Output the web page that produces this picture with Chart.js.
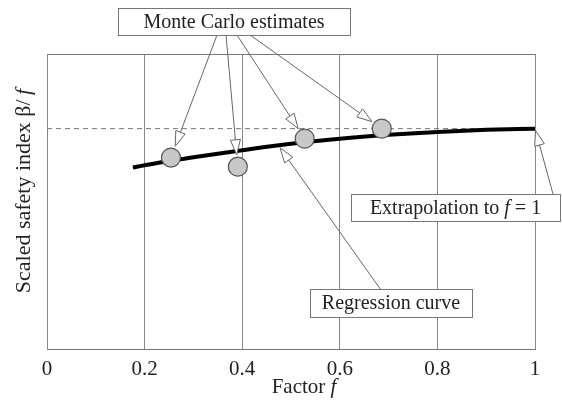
<!DOCTYPE html>
<html>
<head>
<meta charset="utf-8">
<script src="https://cdn.jsdelivr.net/npm/chart.js@4/dist/chart.umd.min.js"></script>
<style>
  html, body { margin: 0; padding: 0; background: #fff; }
  #wrap { width: 562px; height: 411px; position: relative; }
</style>
</head>
<body>
<div id="wrap"><canvas id="myChart"></canvas></div>
<script>
// x axis ticks (factor f)
const factorTicks = [0, 0.2, 0.4, 0.6, 0.8, 1];

// regression curve of the scaled safety index beta/f
const curveF = [0.176, 0.2, 0.3, 0.4, 0.5, 0.6, 0.7, 0.8, 0.9, 1.0];
const curveIndex = [0.615, 0.623, 0.650, 0.674, 0.696, 0.713, 0.726, 0.736, 0.743, 0.747];

// Monte Carlo estimates
const mcF = [0.254, 0.391, 0.528, 0.686];
const mcIndex = [0.649, 0.618, 0.713, 0.747];

// value extrapolated to f = 1 (dashed level)
const extrapolated = curveIndex[curveIndex.length - 1];

const SERIF = "'Liberation Serif', 'Times New Roman', serif";
const INK = '#222';
const LINE_GREY = '#666';

(function () {
    const ctx = document.getElementById('myChart');

    // draws a row of text pieces, some of them italic
    function drawRuns(c, runs, x, y, size) {
        const fonts = runs.map(r => (r[1] ? 'italic ' : '') + size + 'px ' + SERIF);
        let total = 0;
        const widths = runs.map((r, i) => { c.font = fonts[i]; const w = c.measureText(r[0]).width; total += w; return w; });
        let cx = x - total / 2;
        c.textBaseline = 'middle';
        c.textAlign = 'left';
        c.fillStyle = INK;
        runs.forEach((r, i) => { c.font = fonts[i]; c.fillText(r[0], cx, y); cx += widths[i]; });
    }

    function drawArrow(c, x0, y0, x1, y1) {
        const dx = x1 - x0, dy = y1 - y0;
        const len = Math.hypot(dx, dy);
        const ux = dx / len, uy = dy / len;
        const head = 15, half = 5;
        const bx = x1 - ux * head, by = y1 - uy * head;
        c.strokeStyle = LINE_GREY;
        c.lineWidth = 1;
        c.beginPath();
        c.moveTo(x0, y0);
        c.lineTo(bx, by);
        c.stroke();
        c.beginPath();
        c.moveTo(x1, y1);
        c.lineTo(bx - uy * half, by + ux * half);
        c.lineTo(bx + uy * half, by - ux * half);
        c.closePath();
        c.fillStyle = '#fff';
        c.fill();
        c.stroke();
    }

    // tip sits `gap` px back from the target, toward the tail
    function tipTowards(tx, ty, px, py, gap) {
        const dx = px - tx, dy = py - ty;
        const len = Math.hypot(dx, dy);
        return [px - dx / len * gap, py - dy / len * gap];
    }

    function curveAt(f) {
        for (let i = 0; i < curveF.length - 1; i++) {
            if (f >= curveF[i] && f <= curveF[i + 1]) {
                const t = (f - curveF[i]) / (curveF[i + 1] - curveF[i]);
                return curveIndex[i] + t * (curveIndex[i + 1] - curveIndex[i]);
            }
        }
        return curveIndex[curveIndex.length - 1];
    }

    function box(c, x, y, w, h, runs) {
        c.fillStyle = '#fff';
        c.fillRect(x, y, w, h);
        c.strokeStyle = '#777';
        c.lineWidth = 1;
        c.strokeRect(x + 0.5, y + 0.5, w, h);
        drawRuns(c, runs, x + w / 2, y + h / 2 + 1, 20);
    }

    const annotations = {
        id: 'annotations',
        beforeDatasetsDraw(chart) {
            const c = chart.ctx, a = chart.chartArea;
            // frame top edge
            c.save();
            c.strokeStyle = '#777';
            c.lineWidth = 1;
            c.beginPath();
            c.moveTo(a.left, Math.round(a.top) + 0.5);
            c.lineTo(a.right, Math.round(a.top) + 0.5);
            c.stroke();
            c.restore();
        },
        afterDatasetsDraw(chart) {
            const c = chart.ctx;
            const xs = chart.scales.x, ys = chart.scales.y;
            c.save();

            // Monte Carlo callout
            const mcTails = [217, 226, 237, 250];
            mcF.forEach((f, i) => {
                const px = xs.getPixelForValue(f), py = ys.getPixelForValue(mcIndex[i]);
                const tip = tipTowards(mcTails[i], 35, px, py, 12);
                drawArrow(c, mcTails[i], 35, tip[0], tip[1]);
            });
            box(c, 118, 8, 232, 27, [['Monte Carlo estimates', false]]);

            // Regression curve callout
            const rf = 0.474;
            const rx = xs.getPixelForValue(rf), ry = ys.getPixelForValue(curveAt(rf));
            const rTip = tipTowards(381, 290, rx, ry, 3);
            drawArrow(c, 381, 290, rTip[0], rTip[1]);
            box(c, 310, 289, 162, 28, [['Regression curve', false]]);

            // Extrapolation callout
            const ex = xs.getPixelForValue(1), ey = ys.getPixelForValue(extrapolated);
            const eTip = tipTowards(553, 194, ex, ey, 2);
            drawArrow(c, 553, 194, eTip[0], eTip[1]);
            box(c, 351, 194, 209, 27, [['Extrapolation to ', false], ['f', true], [' = 1', false]]);

            // axis titles
            drawRuns(c, [['Factor ', false], ['f', true]], 304, 387, 21);
            c.translate(24, 191);
            c.rotate(-Math.PI / 2);
            drawRuns(c, [['Scaled safety index \u03b2/', false], ['\u2009f', true]], 0, 0, 22);
            c.restore();
        }
    };

    const data = {
        datasets: [{
            label: 'Monte Carlo estimates',
            data: mcF.map((f, i) => ({ x: f, y: mcIndex[i] })),
            showLine: false,
            pointRadius: 9.5,
            pointBackgroundColor: '#c8c8c8',
            pointBorderColor: '#555',
            pointBorderWidth: 1.2
        }, {
            label: 'Regression curve',
            data: curveF.map((f, i) => ({ x: f, y: curveIndex[i] })),
            showLine: true,
            borderColor: '#000',
            borderWidth: 4,
            pointRadius: 0,
            cubicInterpolationMode: 'monotone'
        }, {
            label: 'Extrapolated level',
            data: [{ x: 0, y: extrapolated }, { x: 1, y: extrapolated }],
            showLine: true,
            borderColor: '#777',
            borderWidth: 1,
            borderDash: [5, 4],
            pointRadius: 0
        }]
    };

    const config = {
        type: 'scatter',
        data: data,
        options: {
            responsive: true,
            maintainAspectRatio: false,
            devicePixelRatio: 1,
            animation: false,
            layout: { padding: { top: 54, right: 27, left: 47, bottom: 0 } },
            scales: {
                x: {
                    type: 'linear',
                    min: 0,
                    max: 1,
                    afterBuildTicks: scale => { scale.ticks = factorTicks.map(v => ({ value: v })); },
                    afterFit: scale => { scale.height = 62; },
                    ticks: {
                        padding: 8,
                        color: INK,
                        font: { family: SERIF, size: 21 },
                        callback: v => String(+v.toFixed(1))
                    },
                    grid: { color: '#888', lineWidth: 1, drawTicks: false },
                    border: { color: '#777', width: 1 }
                },
                y: {
                    display: false,
                    min: 0,
                    max: 1
                }
            },
            plugins: {
                legend: { display: false },
                tooltip: { enabled: false }
            }
        },
        plugins: [annotations]
    };

    if (ctx) {
        new Chart(ctx, config);
    }
})();
</script>
</body>
</html>
